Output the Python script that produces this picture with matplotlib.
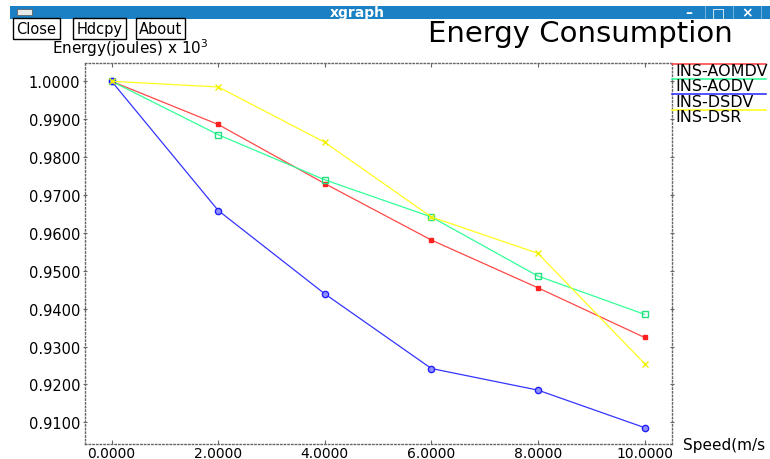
import numpy as np
import matplotlib.pyplot as plt
from matplotlib.patches import Rectangle

# data
speed = [0, 2, 4, 6, 8, 10]
aomdv = [1.0000, 0.9886, 0.9730, 0.9581, 0.9455, 0.9324]
aodv = [1.0000, 0.9859, 0.9740, 0.9642, 0.9486, 0.9385]
dsdv = [1.0000, 0.9659, 0.9439, 0.9242, 0.9185, 0.9086]
dsr = [1.0000, 0.9985, 0.9839, 0.9642, 0.9546, 0.9255]
series_names = ['INS-AOMDV', 'INS-AODV', 'INS-DSDV', 'INS-DSR']
yticks = [1.0, 0.99, 0.98, 0.97, 0.96, 0.95, 0.94, 0.93, 0.92, 0.91]
xticks = [0, 2, 4, 6, 8, 10]

W, H = 770, 460
fig = plt.figure(figsize=(W / 100, H / 100), dpi=100)
fig.patch.set_facecolor('white')


def px(x, y):
    # pixel coords (top-left origin) -> figure fraction
    return x / W, 1 - y / H


# window title bar
fig.patches.append(Rectangle(px(10, 20), 760 / W, 13 / H, transform=fig.transFigure,
                             facecolor='#1b80c4', edgecolor='none'))
fig.patches.append(Rectangle(px(17, 16), 15 / W, 6 / H, transform=fig.transFigure,
                             facecolor='#e8e8e8', edgecolor='#555555', lw=0.5))
fig.text(*px(357, 13.5), 'xgraph', color='white', fontsize=10, fontweight='bold',
         ha='center', va='center')
for bx, sym in [(689, '\u2013'), (718, '\u25a1'), (747, '\u00d7')]:
    fig.text(*px(bx, 13.5), sym, color='white', fontsize=10, fontweight='bold',
             ha='center', va='center')
for bx in [705, 733, 761]:
    fig.patches.append(Rectangle(px(bx, 20), 1 / W, 13 / H, transform=fig.transFigure,
                                 facecolor='#6fb0dd', edgecolor='none'))

# xgraph buttons
for bx, label in [(36.5, 'Close'), (99.5, 'Hdcpy'), (160.5, 'About')]:
    fig.text(*px(bx, 29.5), label, fontsize=10.5, ha='center', va='center',
             bbox=dict(boxstyle='square,pad=0.22', facecolor='white',
                       edgecolor='black', lw=1))

fig.text(*px(580, 34), 'Energy Consumption', fontsize=21, ha='center', va='center')
fig.text(*px(52, 48), r'Energy(joules) x 10$^{3}$', fontsize=11, ha='left', va='center')

x0, y0 = px(85, 445.3)
ax = fig.add_axes([x0, y0, (671.7 - 85) / W, (445.3 - 64.3) / H])
ax.set_facecolor('white')

ax.plot(speed, aomdv, color='#ff4848', lw=0.9, marker='s', ms=2.5, mfc='#ff2020', mec='#ff2020')
ax.plot(speed, aodv, color='#33ff99', lw=0.9, marker='s', ms=5, mfc='none', mec='#20e080')
ax.plot(speed, dsdv, color='#3434ff', lw=0.9, marker='o', ms=4.5, mfc='#9090ff', mec='#2020ff')
ax.plot(speed, dsr, color='#ffff20', lw=0.9, marker='x', ms=5, mec='#f0f000')

ax.set_xlim(-0.5, 10.51)
ax.set_ylim(0.9042, 1.00475)
ax.set_xticks(xticks)
ax.set_xticklabels([f'{v:.4f}' for v in xticks])
ax.set_yticks(yticks)
ax.set_yticklabels([f'{v:.4f}' for v in yticks])
ax.tick_params(axis='both', labelsize=10.5, color='#666666', length=3, width=0.8,
               top=True, right=True, direction='in')
ax.tick_params(axis='x', pad=1, labelsize=10)
ax.tick_params(axis='y', left=True, direction='inout', pad=2)
for s in ax.spines.values():
    s.set_linestyle(':')
    s.set_color('#666666')
    s.set_linewidth(1)

fig.text(*px(683, 446), 'Speed(m/s', fontsize=11, ha='left', va='center')

# legend to the right, xgraph style
colors = ['#ff4848', '#33ff99', '#3434ff', '#ffff20']
for i, (name, c) in enumerate(zip(series_names, colors)):
    ly = 64.5 + i * 15.4
    fig.lines.append(plt.Line2D([672 / W, 766 / W], [1 - ly / H] * 2,
                                transform=fig.transFigure, color=c, lw=1.2))
    fig.text(*px(675, ly + 7), name, fontsize=11.5, ha='left', va='center')

fig.savefig('out.png', dpi=100)
